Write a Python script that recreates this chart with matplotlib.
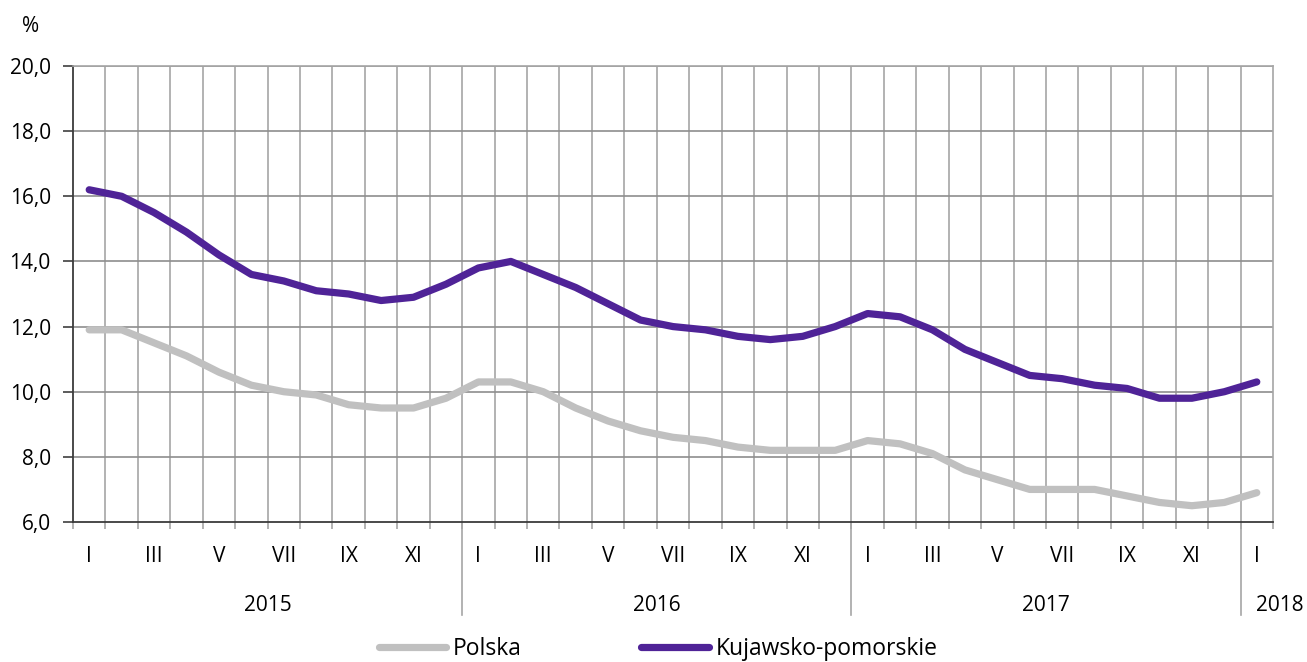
import matplotlib.pyplot as plt
from matplotlib.lines import Line2D

plt.rcParams['font.family'] = ['Open Sans', 'DejaVu Sans']

# miesiące I 2015 - I 2018
months = list(range(37))
month_labels = ['I', 'III', 'V', 'VII', 'IX', 'XI']
years = ['2015', '2016', '2017', '2018']

# stopa bezrobocia rejestrowanego (%)
polska = [11.9, 11.9, 11.5, 11.1, 10.6, 10.2, 10.0, 9.9, 9.6, 9.5, 9.5, 9.8,
          10.3, 10.3, 10.0, 9.5, 9.1, 8.8, 8.6, 8.5, 8.3, 8.2, 8.2, 8.2,
          8.5, 8.4, 8.1, 7.6, 7.3, 7.0, 7.0, 7.0, 6.8, 6.6, 6.5, 6.6,
          6.9]
kujawsko = [16.2, 16.0, 15.5, 14.9, 14.2, 13.6, 13.4, 13.1, 13.0, 12.8, 12.9, 13.3,
            13.8, 14.0, 13.6, 13.2, 12.7, 12.2, 12.0, 11.9, 11.7, 11.6, 11.7, 12.0,
            12.4, 12.3, 11.9, 11.3, 10.9, 10.5, 10.4, 10.2, 10.1, 9.8, 9.8, 10.0,
            10.3]

grey = '#c0c0c0'
purple = '#4f2397'

fig = plt.figure(figsize=(13.07, 6.62), dpi=100)
ax = fig.add_axes([73/1307, 1 - 522/662, 1200/1307, 456/662])

# siatka
for k in range(1, 37):
    ax.axvline(k - 0.5, color='#a6a6a6', lw=1.2, zorder=1)
for v in range(8, 21, 2):
    ax.axhline(v, color='#8e8e8e', lw=1.2, zorder=1)

ax.plot(months, polska, color=grey, lw=5.2, solid_capstyle='round',
        solid_joinstyle='round', zorder=3, label='Polska')
ax.plot(months, kujawsko, color=purple, lw=5.2, solid_capstyle='round',
        solid_joinstyle='round', zorder=4, label='Kujawsko-pomorskie')

ax.set_xlim(-0.5, 36.5)
ax.set_ylim(6, 20)
ax.set_yticks(range(6, 21, 2))
ax.set_yticklabels([f'{v},0' for v in range(6, 21, 2)], fontsize=15)
ax.tick_params(axis='y', length=7, width=1.2, color='#404040', pad=9)

# etykiety miesięcy (co drugi miesiąc)
tick_pos = [m for m in months if m % 12 in (0, 2, 4, 6, 8, 10)]
ax.set_xticks(tick_pos)
ax.set_xticklabels([month_labels[(m % 12) // 2] for m in tick_pos], fontsize=15)
ax.tick_params(axis='x', which='major', length=0, pad=17)
ax.set_xticks([k - 0.5 for k in range(0, 38)], minor=True)
ax.tick_params(axis='x', which='minor', length=5, width=1.2, color='#a6a6a6')

for s in ['top', 'right']:
    ax.spines[s].set_color('#a6a6a6')
    ax.spines[s].set_linewidth(1.2)
for s in ['left', 'bottom']:
    ax.spines[s].set_color('#3c3c3c')
    ax.spines[s].set_linewidth(1.3)

# separatory lat i podpisy lat
trans = ax.get_xaxis_transform()
for xs in [11.5, 23.5, 35.5]:
    ax.plot([xs, xs], [0, -0.204], transform=trans, color='#a6a6a6',
            lw=1.2, clip_on=False)
for i, yr in enumerate(years[:3]):
    ax.text(12 * i + 5.5, -0.184, yr, transform=trans, ha='center',
            va='center', fontsize=15)
ax.text(35.97, -0.184, years[3], transform=trans, ha='left', va='center',
        fontsize=15)

fig.text(31/1307, 1 - 26/662, '%', ha='center', va='center', fontsize=15)

handles = [Line2D([], [], color=grey, lw=5.2, solid_capstyle='round'),
           Line2D([], [], color=purple, lw=5.2, solid_capstyle='round')]
fig.legend(handles, ['Polska', 'Kujawsko-pomorskie'], loc='center',
           bbox_to_anchor=(658/1307, 1 - 649/662), ncol=2, frameon=False,
           fontsize=16.5, handlelength=2.95, handletextpad=0.3,
           columnspacing=5.2, borderpad=0)

fig.savefig('out.png', dpi=100)
